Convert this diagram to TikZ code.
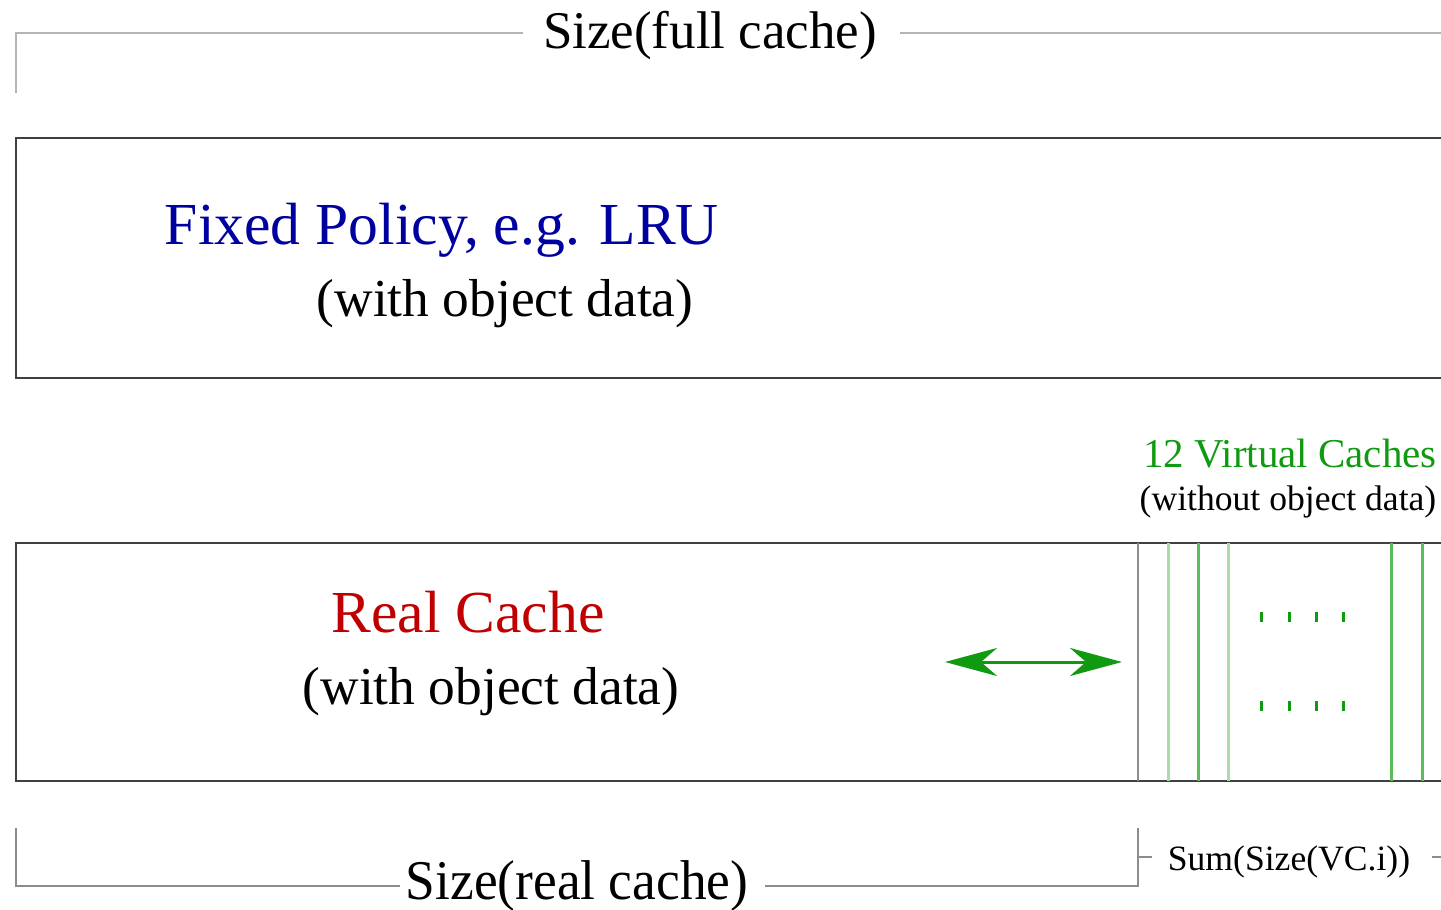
\documentclass[tikz,border=0pt]{standalone}
\usepackage{fontspec}
\setmainfont{Liberation Serif}
\usetikzlibrary{arrows.meta}
\definecolor{brgray}{HTML}{B4B4B4}
\definecolor{brgray2}{HTML}{8C8C8C}
\definecolor{boxgray}{HTML}{404040}
\definecolor{vcgreen}{HTML}{109A10}
\definecolor{lgreen}{HTML}{A8DCA8}
\definecolor{mgreen}{HTML}{5CBC5C}
\definecolor{polblue}{HTML}{0000A0}
\definecolor{realred}{HTML}{C00000}
\tikzset{
  bracket/.style={draw=brgray, line width=1.4pt},
  bracketb/.style={draw=brgray2, line width=1pt},
  cachebox/.style={draw=boxgray, line width=1.3pt},
  lbl/.style={anchor=base, inner sep=0pt},
  vcline/.style={line width=1.5pt},
  tick/.style={fill=vcgreen, draw=none},
}
\begin{document}
\begin{tikzpicture}[x=0.5pt,y=-0.5pt]
\useasboundingbox (0,0) rectangle (1441,910);
\clip (0,0) rectangle (1441,910);
% top bracket
\node[lbl, font=\fontsize{26.5}{30}\selectfont] (full) at (710,48) {Size(full cache)};
\draw[bracket] (16,93) -- (16,33) -- (523,33);
\draw[bracket] (900,33) -- (1441,33);
% fixed policy box
\draw[cachebox] (16,138) rectangle (1470,378);
\node[lbl, text=polblue, font=\fontsize{29.8}{34}\selectfont] (fixed) at (442,244) {Fixed Policy, e.g. LRU};
\node[lbl, font=\fontsize{26.7}{30}\selectfont] (fixdata) at (505,316) {(with object data)};
% virtual caches label
\node[lbl, text=vcgreen, font=\fontsize{20.5}{24}\selectfont] (vc) at (1290,467) {12 Virtual Caches};
\node[lbl, font=\fontsize{17.8}{20}\selectfont] (vcdata) at (1288,510) {(without object data)};
% real cache box
\draw[cachebox] (16,543) rectangle (1470,781);
\draw[bracketb] (1138,543) -- (1138,781);
\draw[vcline, lgreen] (1168,543) -- (1168,781);
\draw[vcline, mgreen] (1198,543) -- (1198,781);
\draw[vcline, lgreen] (1228,543) -- (1228,781);
\draw[vcline, mgreen] (1391,543) -- (1391,781);
\draw[vcline, mgreen] (1422,543) -- (1422,781);
\foreach \x in {1261,1289,1316,1343}{
  \fill[tick] (\x-1.5,612) rectangle (\x+1.5,622);
  \fill[tick] (\x-1.5,701) rectangle (\x+1.5,711);
}
\node[lbl, text=realred, font=\fontsize{29.8}{34}\selectfont] (real) at (468,632) {Real Cache};
\node[lbl, font=\fontsize{26.7}{30}\selectfont] (realdata) at (491,704) {(with object data)};
% arrow
\coordinate (al) at (945,662);
\coordinate (ar) at (1122,662);
\draw[vcgreen, line width=1.5pt, {Stealth[length=26pt,width=14pt,inset=8pt]}-{Stealth[length=26pt,width=14pt,inset=8pt]}] (al) -- (ar);
% bottom bracket
\node[lbl, font=\fontsize{26.7}{30}\selectfont, yscale=1.05] (realsize) at (577,899) {Size(real cache)};
\draw[bracketb] (16,828) -- (16,886) -- (400,886);
\draw[bracketb] (765,886) -- (1138,886) -- (1138,828);
\draw[bracketb] (1138,857) -- (1152,857);
\node[lbl, font=\fontsize{17.8}{20}\selectfont] (sum) at (1289,870) {Sum(Size(VC.i))};
\draw[bracketb] (1432,857) -- (1441,857);
\end{tikzpicture}
\end{document}
